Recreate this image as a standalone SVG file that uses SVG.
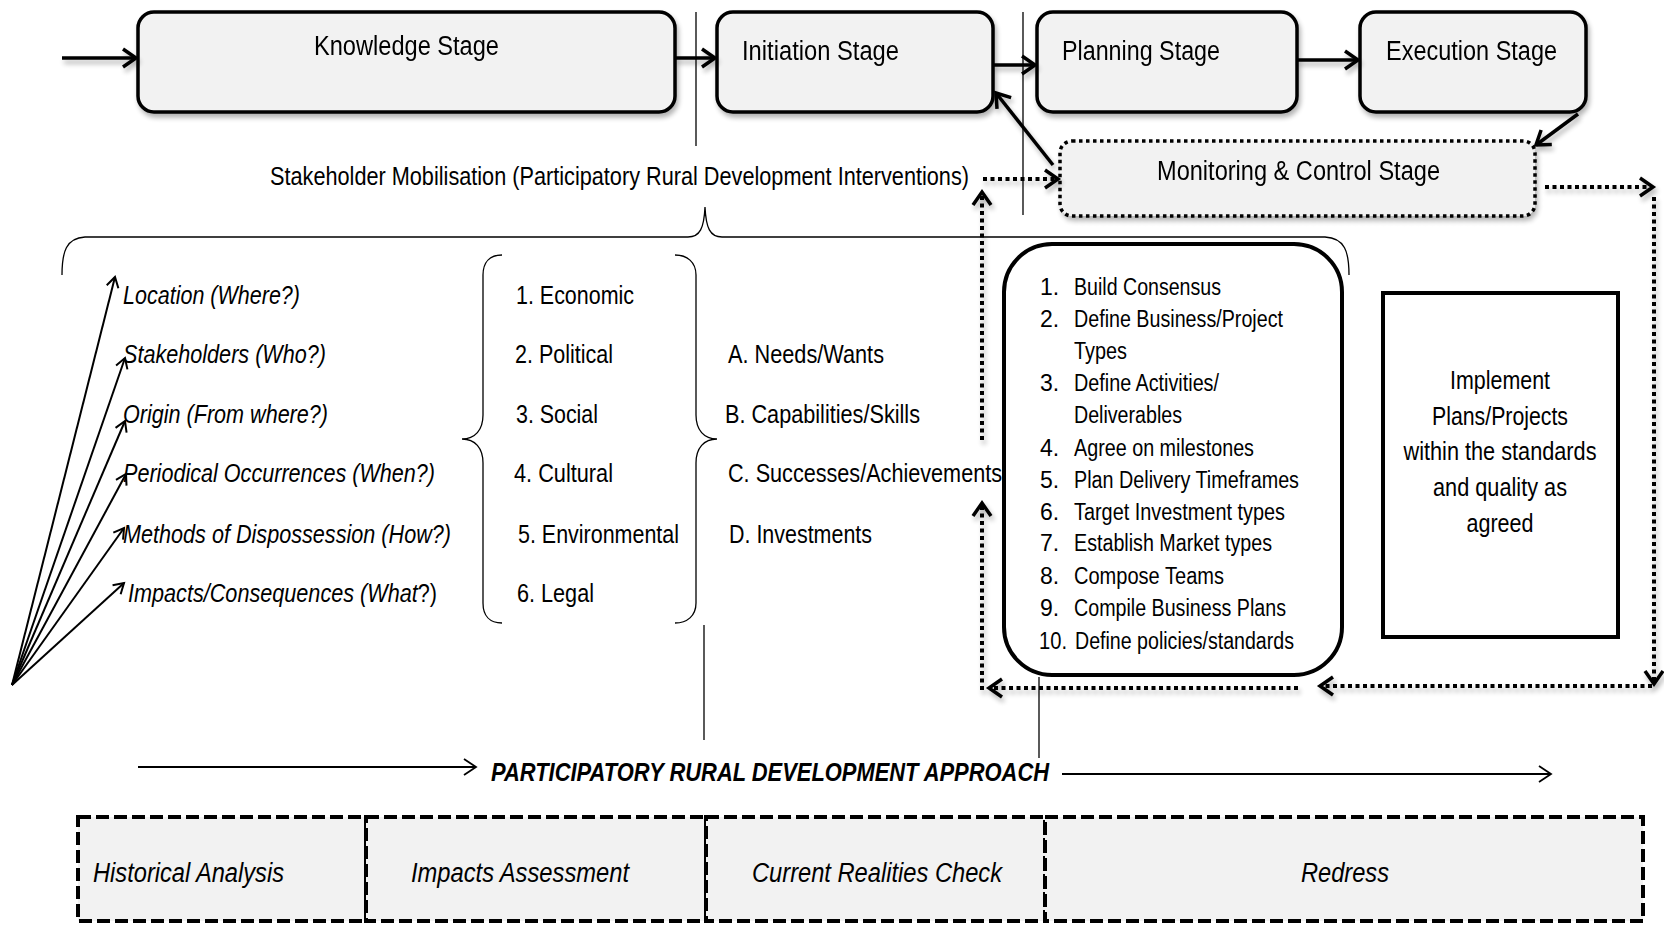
<svg xmlns="http://www.w3.org/2000/svg" width="1664" height="925" viewBox="0 0 1664 925">
  <style>
    .t { font-family: "Liberation Sans Narrow", "Liberation Sans", Arial, sans-serif; fill: #000; }
    .stage { font-size: 27px; }
    .mid { font-size: 25px; }
    .lst { font-size: 23px; }
    .it { font-style: italic; }
    .bi { font-style: italic; font-weight: bold; }
    .box { fill: #f2f2f2; stroke: #000; stroke-width: 3.5; }
    .dotbox { fill: #f2f2f2; stroke: #000; stroke-width: 3.5; stroke-dasharray: 3.5 3.5; }
    .dashbox { fill: #f2f2f2; stroke: #000; stroke-width: 4; stroke-dasharray: 13 5; }
    .thick { fill: none; stroke: #000; stroke-width: 3.5; }
    .dots { fill: none; stroke: #000; stroke-width: 4; stroke-dasharray: 4 3.5; }
    .thin { fill: none; stroke: #000; stroke-width: 1.3; }
    .fan { fill: none; stroke: #000; stroke-width: 2; }
    .appr { fill: none; stroke: #000; stroke-width: 1.8; }
  </style>
  <defs>
    <filter id="shadow" filterUnits="userSpaceOnUse" x="0" y="0" width="1664" height="925">
      <feGaussianBlur in="SourceAlpha" stdDeviation="2.5"/>
      <feOffset dx="2" dy="4" result="o"/>
      <feComponentTransfer><feFuncA type="linear" slope="0.3"/></feComponentTransfer>
      <feMerge><feMergeNode/><feMergeNode in="SourceGraphic"/></feMerge>
    </filter>
    <marker id="ah" markerUnits="userSpaceOnUse" viewBox="-20 -20 40 40" markerWidth="40" markerHeight="40" refX="0" refY="0" orient="auto">
      <path d="M-13,-9 L0,0 L-13,9" fill="none" stroke="#000" stroke-width="3.5"/>
    </marker>
    <marker id="ahs" markerUnits="userSpaceOnUse" viewBox="-20 -20 40 40" markerWidth="40" markerHeight="40" refX="0" refY="0" orient="auto">
      <path d="M-10,-6 L0,0 L-10,6" fill="none" stroke="#000" stroke-width="2"/>
    </marker>
    <marker id="ahm" markerUnits="userSpaceOnUse" viewBox="-20 -20 40 40" markerWidth="40" markerHeight="40" refX="0" refY="0" orient="auto">
      <path d="M-12,-8 L0,0 L-12,8" fill="none" stroke="#000" stroke-width="1.8"/>
    </marker>
  </defs>

  <rect width="1664" height="925" fill="#fff"/>

  <!-- project life-cycle stages -->
  <g id="knowledge-stage" filter="url(#shadow)">
    <rect class="box" x="138" y="12" width="537" height="100" rx="16"/>
    <text class="t stage" x="314" y="55" textLength="185" lengthAdjust="spacingAndGlyphs">Knowledge Stage</text>
  </g>
  <g id="initiation-stage" filter="url(#shadow)">
    <rect class="box" x="717" y="12" width="276" height="100" rx="16"/>
    <text class="t stage" x="742" y="60" textLength="157" lengthAdjust="spacingAndGlyphs">Initiation Stage</text>
  </g>
  <g id="planning-stage" filter="url(#shadow)">
    <rect class="box" x="1037" y="12" width="260" height="100" rx="16"/>
    <text class="t stage" x="1062" y="60" textLength="158" lengthAdjust="spacingAndGlyphs">Planning Stage</text>
  </g>
  <g id="execution-stage" filter="url(#shadow)">
    <rect class="box" x="1360" y="12" width="226" height="100" rx="16"/>
    <text class="t stage" x="1386" y="60" textLength="171" lengthAdjust="spacingAndGlyphs">Execution Stage</text>
  </g>
  <g id="monitoring-stage" filter="url(#shadow)">
    <rect class="dotbox" x="1060" y="141" width="475" height="75" rx="12"/>
    <text class="t stage" x="1157" y="180" textLength="283" lengthAdjust="spacingAndGlyphs">Monitoring &amp; Control Stage</text>
  </g>

  <g id="stakeholder-mobilisation">
    <text class="t mid" x="270" y="185" textLength="699" lengthAdjust="spacingAndGlyphs">Stakeholder Mobilisation (Participatory Rural Development Interventions)</text>
  </g>

  <!-- analysis questions -->
  <g id="questions">
    <text class="t mid it" x="123" y="304" textLength="177" lengthAdjust="spacingAndGlyphs">Location (Where?)</text>
    <text class="t mid it" x="123" y="363" textLength="203" lengthAdjust="spacingAndGlyphs">Stakeholders (Who?)</text>
    <text class="t mid it" x="123" y="423" textLength="205" lengthAdjust="spacingAndGlyphs">Origin (From where?)</text>
    <text class="t mid it" x="123" y="482" textLength="312" lengthAdjust="spacingAndGlyphs">Periodical Occurrences (When?)</text>
    <text class="t mid it" x="123" y="543" textLength="328" lengthAdjust="spacingAndGlyphs">Methods of Dispossession (How?)</text>
    <text class="t mid" x="128" y="602" textLength="309" lengthAdjust="spacingAndGlyphs"><tspan class="it">Impacts/Consequences (What</tspan>?)</text>
  </g>

  <!-- dimensions -->
  <g id="dimensions">
    <path class="thin" d="M502,255 C490,255 483,262 483,275 L483,415 C483,430 475,439 462,439 C475,439 483,448 483,463 L483,603 C483,616 490,623 502,623"/>
    <path class="thin" d="M675,255 C687,255 696,262 696,275 L696,415 C696,430 704,439 717,439 C704,439 696,448 696,463 L696,603 C696,616 687,623 675,623"/>
    <text class="t mid" x="516" y="304" textLength="118" lengthAdjust="spacingAndGlyphs">1. Economic</text>
    <text class="t mid" x="515" y="363" textLength="98" lengthAdjust="spacingAndGlyphs">2. Political</text>
    <text class="t mid" x="516" y="423" textLength="82" lengthAdjust="spacingAndGlyphs">3. Social</text>
    <text class="t mid" x="514" y="482" textLength="99" lengthAdjust="spacingAndGlyphs">4. Cultural</text>
    <text class="t mid" x="518" y="543" textLength="161" lengthAdjust="spacingAndGlyphs">5. Environmental</text>
    <text class="t mid" x="517" y="602" textLength="77" lengthAdjust="spacingAndGlyphs">6. Legal</text>
  </g>

  <!-- focus areas -->
  <g id="focus-areas">
    <text class="t mid" x="728" y="363" textLength="156" lengthAdjust="spacingAndGlyphs">A. Needs/Wants</text>
    <text class="t mid" x="725" y="423" textLength="195" lengthAdjust="spacingAndGlyphs">B. Capabilities/Skills</text>
    <text class="t mid" x="728" y="482" textLength="274" lengthAdjust="spacingAndGlyphs">C. Successes/Achievements</text>
    <text class="t mid" x="729" y="543" textLength="143" lengthAdjust="spacingAndGlyphs">D. Investments</text>
  </g>

  <!-- planning activities -->
  <g id="planning-activities">
    <rect x="1004" y="244" width="338" height="431" rx="48" fill="#fff" stroke="#000" stroke-width="4"/>
    <g class="t lst">
      <text x="1040" y="295">1.</text>
      <text x="1074" y="295" textLength="147" lengthAdjust="spacingAndGlyphs">Build Consensus</text>
      <text x="1040" y="327">2.</text>
      <text x="1074" y="327" textLength="209" lengthAdjust="spacingAndGlyphs">Define Business/Project</text>
      <text x="1074" y="359" textLength="53" lengthAdjust="spacingAndGlyphs">Types</text>
      <text x="1040" y="391">3.</text>
      <text x="1074" y="391" textLength="145" lengthAdjust="spacingAndGlyphs">Define Activities/</text>
      <text x="1074" y="423" textLength="108" lengthAdjust="spacingAndGlyphs">Deliverables</text>
      <text x="1040" y="456">4.</text>
      <text x="1074" y="456" textLength="180" lengthAdjust="spacingAndGlyphs">Agree on milestones</text>
      <text x="1040" y="488">5.</text>
      <text x="1074" y="488" textLength="225" lengthAdjust="spacingAndGlyphs">Plan Delivery Timeframes</text>
      <text x="1040" y="520">6.</text>
      <text x="1074" y="520" textLength="211" lengthAdjust="spacingAndGlyphs">Target Investment types</text>
      <text x="1040" y="551">7.</text>
      <text x="1074" y="551" textLength="198" lengthAdjust="spacingAndGlyphs">Establish Market types</text>
      <text x="1040" y="584">8.</text>
      <text x="1074" y="584" textLength="150" lengthAdjust="spacingAndGlyphs">Compose Teams</text>
      <text x="1040" y="616">9.</text>
      <text x="1074" y="616" textLength="212" lengthAdjust="spacingAndGlyphs">Compile Business Plans</text>
      <text x="1039" y="649" textLength="28" lengthAdjust="spacingAndGlyphs">10.</text>
      <text x="1075" y="649" textLength="219" lengthAdjust="spacingAndGlyphs">Define policies/standards</text>
    </g>
  </g>

  <g id="implement">
    <rect x="1383" y="293" width="235" height="344" fill="#fff" stroke="#000" stroke-width="4"/>
    <g class="t mid" text-anchor="middle">
      <text x="1500" y="389" textLength="100" lengthAdjust="spacingAndGlyphs">Implement</text>
      <text x="1500" y="425" textLength="136" lengthAdjust="spacingAndGlyphs">Plans/Projects</text>
      <text x="1500" y="460" textLength="193" lengthAdjust="spacingAndGlyphs">within the standards</text>
      <text x="1500" y="496" textLength="134" lengthAdjust="spacingAndGlyphs">and quality as</text>
      <text x="1500" y="532" textLength="67" lengthAdjust="spacingAndGlyphs">agreed</text>
    </g>
  </g>

  <g id="approach-label">
    <text class="t mid bi" x="491" y="781" textLength="558" lengthAdjust="spacingAndGlyphs">PARTICIPATORY RURAL DEVELOPMENT APPROACH</text>
  </g>

  <!-- approach phases -->
  <g id="historical-analysis">
    <rect class="dashbox" x="78" y="817" width="288" height="104"/>
    <text class="t it" font-size="27" x="93" y="882" textLength="191" lengthAdjust="spacingAndGlyphs">Historical Analysis</text>
  </g>
  <g id="impacts-assessment">
    <rect class="dashbox" x="366" y="817" width="340" height="104"/>
    <text class="t it" font-size="27" x="411" y="882" textLength="218" lengthAdjust="spacingAndGlyphs">Impacts Assessment</text>
  </g>
  <g id="current-realities-check">
    <rect class="dashbox" x="706" y="817" width="339" height="104"/>
    <text class="t it" font-size="27" x="752" y="882" textLength="250" lengthAdjust="spacingAndGlyphs">Current Realities Check</text>
  </g>
  <g id="redress">
    <rect class="dashbox" x="1045" y="817" width="598" height="104"/>
    <text class="t it" font-size="27" x="1301" y="882" textLength="88" lengthAdjust="spacingAndGlyphs">Redress</text>
  </g>

  <!-- connectors -->
  <g id="connectors">
    <!-- stage flow -->
    <g filter="url(#shadow)">
      <line class="thick" x1="62" y1="58" x2="136" y2="58" marker-end="url(#ah)"/>
      <line class="thick" x1="675" y1="58" x2="715" y2="58" marker-end="url(#ah)"/>
      <line class="thick" x1="993" y1="65" x2="1035" y2="65" marker-end="url(#ah)"/>
      <line class="thick" x1="1297" y1="60" x2="1358" y2="60" marker-end="url(#ah)"/>
      <line class="thick" x1="1578" y1="114" x2="1536" y2="145" marker-end="url(#ah)"/>
      <line class="thick" x1="1053" y1="165" x2="996" y2="93" marker-end="url(#ah)"/>
    </g>
    <!-- feedback loops -->
    <g filter="url(#shadow)">
      <line class="dots" x1="983" y1="179" x2="1058" y2="179" marker-end="url(#ah)"/>
      <line class="dots" x1="1545" y1="187" x2="1653" y2="187" marker-end="url(#ah)"/>
      <line class="dots" x1="1654" y1="197" x2="1654" y2="684" marker-end="url(#ah)"/>
      <line class="dots" x1="1652" y1="686" x2="1320" y2="686" marker-end="url(#ah)"/>
      <line class="dots" x1="1298" y1="688" x2="989" y2="688" marker-end="url(#ah)"/>
      <line class="dots" x1="982" y1="690" x2="982" y2="503" marker-end="url(#ah)"/>
      <line class="dots" x1="982" y1="440" x2="982" y2="192" marker-end="url(#ah)"/>
    </g>
    <!-- question fan -->
    <line class="fan" x1="12" y1="685" x2="115" y2="277" marker-end="url(#ahs)"/>
    <line class="fan" x1="12" y1="685" x2="125" y2="358" marker-end="url(#ahs)"/>
    <line class="fan" x1="12" y1="685" x2="125" y2="421" marker-end="url(#ahs)"/>
    <line class="fan" x1="12" y1="685" x2="126" y2="474" marker-end="url(#ahs)"/>
    <line class="fan" x1="12" y1="685" x2="124" y2="528" marker-end="url(#ahs)"/>
    <line class="fan" x1="12" y1="685" x2="124" y2="583" marker-end="url(#ahs)"/>
    <!-- phase markers and brace -->
    <line class="thin" x1="696" y1="12" x2="696" y2="146"/>
    <line class="thin" x1="1023" y1="12" x2="1023" y2="215"/>
    <line class="thin" x1="704" y1="625" x2="704" y2="740"/>
    <line class="thin" x1="1039" y1="677" x2="1039" y2="758"/>
    <path class="thin" d="M62,275 C62,252 66,238 85,237 L688,237 C700,237 704,228 705,207 C706,228 710,237 722,237 L1325,237 C1345,238 1349,252 1349,275"/>
    <!-- approach direction -->
    <line class="appr" x1="138" y1="767" x2="476" y2="767" marker-end="url(#ahm)"/>
    <line class="appr" x1="1062" y1="774" x2="1551" y2="774" marker-end="url(#ahm)"/>
  </g>
</svg>
